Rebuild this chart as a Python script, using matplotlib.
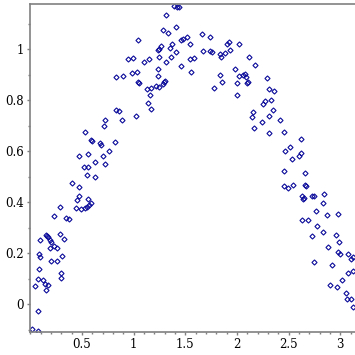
import numpy as np
import matplotlib
matplotlib.use("Agg")
import matplotlib.pyplot as plt
from matplotlib.ticker import MultipleLocator, FuncFormatter

# scattered samples
x_vals = [
    0.016, 0.077, 0.077, 0.048, 0.077, 0.087, 0.087, 0.094, 0.094,
    0.126, 0.142, 0.174, 0.152, 0.159,
    0.152, 0.176, 0.194, 0.205, 0.225, 0.254, 0.186,
    0.288, 0.326, 0.203, 0.261, 0.310, 0.297, 0.297,
    0.232, 0.290, 0.348, 0.372, 0.407, 0.474, 0.469, 0.449, 0.561, 0.585,
    0.565, 0.532, 0.546, 0.442, 0.488, 0.474, 0.559, 0.707, 0.765, 0.523,
    0.556, 0.629, 0.726, 0.552, 0.629, 0.532, 0.591, 0.596, 0.675, 0.687,
    0.823, 0.728, 0.718,
    0.830, 0.827, 0.859, 0.891, 1.020,
    1.391, 1.417, 1.442, 1.309, 1.415, 1.280, 1.330, 1.045, 1.481, 1.462,
    1.517, 1.665, 1.743, 1.375, 1.355, 1.268, 1.249, 1.239, 1.549, 1.675,
    1.737, 1.762, 1.839, 1.882, 1.843, 1.907, 1.926, 1.936, 2.020, 1.413,
    0.949, 0.991, 1.104, 1.152, 1.249, 1.362, 1.314, 1.549, 1.582, 1.462,
    1.239, 1.559, 0.900, 0.982, 1.036, 1.045, 1.055, 1.239, 1.291, 1.304,
    1.282, 1.217, 1.249, 1.133, 1.166, 1.162, 1.142, 1.168,
    1.836, 1.856, 1.781, 1.985, 2.023, 2.004, 2.004,
    2.120, 2.178, 2.062, 2.078, 2.088, 2.095, 2.110, 2.294, 2.314, 2.362,
    2.256, 2.275, 2.333, 2.352, 2.159, 2.149, 2.314, 2.417,
    2.166, 2.246, 2.311, 2.459, 2.623, 2.517, 2.469, 2.623, 2.604, 2.536,
    2.459, 2.662, 2.459, 2.498, 2.546, 2.662, 2.672, 2.633, 2.653, 2.643,
    2.730, 2.744, 2.846, 2.836, 2.769, 2.982, 2.875, 2.633, 2.691, 2.778,
    2.836, 2.730, 2.962,
    2.991, 2.885, 2.982, 2.995, 3.078, 3.127, 3.107, 2.749, 2.918, 3.073,
    3.127, 3.020, 2.904, 2.972, 3.059, 3.069, 3.107, 3.127,
]
y_vals = [
    -0.098, -0.104, -0.024, 0.072, 0.099, 0.137, 0.197, 0.184, 0.252,
    0.095, 0.082, 0.078, 0.055, 0.268,
    0.274, 0.264, 0.254, 0.243, 0.231, 0.223, 0.220,
    0.276, 0.256, 0.170, 0.170, 0.191, 0.125, 0.102,
    0.347, 0.383, 0.338, 0.333, 0.478, 0.459, 0.425, 0.409, 0.414, 0.396,
    0.391, 0.380, 0.383, 0.380, 0.375, 0.582, 0.588, 0.583, 0.602, 0.540,
    0.540, 0.559, 0.549, 0.507, 0.500, 0.675, 0.644, 0.640, 0.631, 0.627,
    0.635, 0.723, 0.699,
    0.890, 0.762, 0.757, 0.725, 0.738,
    1.171, 1.166, 1.166, 1.133, 1.087, 1.075, 1.063, 1.035, 1.042, 1.035,
    1.048, 1.059, 1.047, 1.021, 1.004, 1.012, 1.002, 0.997, 1.021, 0.992,
    0.993, 0.988, 0.983, 0.985, 0.969, 1.022, 1.029, 0.996, 1.021, 0.988,
    0.961, 0.965, 0.950, 0.961, 0.969, 0.969, 0.949, 0.961, 0.965, 0.933,
    0.925, 0.910, 0.894, 0.907, 0.911, 0.873, 0.867, 0.894, 0.873, 0.877,
    0.864, 0.855, 0.851, 0.844, 0.847, 0.820, 0.788, 0.765,
    0.898, 0.871, 0.847, 0.922, 0.894, 0.867, 0.820,
    0.969, 0.937, 0.899, 0.903, 0.890, 0.869, 0.873, 0.886, 0.843, 0.835,
    0.784, 0.797, 0.800, 0.761, 0.754, 0.733, 0.738, 0.725,
    0.693, 0.714, 0.673, 0.678, 0.647, 0.617, 0.600, 0.593, 0.582, 0.569,
    0.525, 0.514, 0.464, 0.455, 0.467, 0.468, 0.464, 0.427, 0.418, 0.414,
    0.425, 0.427, 0.431, 0.396, 0.366, 0.354, 0.349, 0.331, 0.331, 0.306,
    0.282, 0.267, 0.272,
    0.243, 0.224, 0.204, 0.197, 0.196, 0.187, 0.178, 0.165, 0.153, 0.125,
    0.131, 0.094, 0.075, 0.067, 0.043, 0.020, 0.020, -0.012,
]

x_ticks = [0.5, 1, 1.5, 2, 2.5, 3]
y_ticks = [0, 0.2, 0.4, 0.6, 0.8, 1]

plt.rcParams["font.family"] = "DejaVu Serif"

fig = plt.figure(figsize=(3.55, 3.55), dpi=100)
ax = fig.add_axes([30.3 / 355, 23.3 / 355, 324.5 / 355, 327.7 / 355])

ax.plot(x_vals, y_vals, linestyle="none", marker="D", markersize=2.6,
        markerfacecolor="none", markeredgecolor="#0a0a9a", markeredgewidth=0.8)

ax.set_xlim(0, np.pi)
ax.set_ylim(-0.107, 1.178)

ax.set_xticks(x_ticks)
ax.set_yticks(y_ticks)
ax.xaxis.set_minor_locator(MultipleLocator(0.1))
ax.yaxis.set_minor_locator(MultipleLocator(0.1))
fmt = FuncFormatter(lambda v, p: f"{v:g}")
ax.xaxis.set_major_formatter(fmt)
ax.yaxis.set_major_formatter(fmt)

grey = "#808080"
for side in ("left", "bottom", "top"):
    ax.spines[side].set_color(grey)
    ax.spines[side].set_linewidth(1.2)
ax.spines["right"].set_visible(False)

ax.tick_params(which="major", direction="out", length=2.5, width=1, color=grey,
               labelsize=8.5, pad=2)
ax.tick_params(which="minor", direction="out", length=1.5, width=1, color=grey)

fig.savefig("out.png", dpi=100)
